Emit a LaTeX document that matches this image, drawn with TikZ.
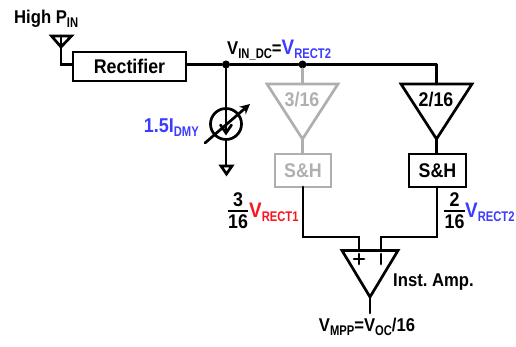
\documentclass[tikz,border=0pt]{standalone}
\usepackage{fontspec}
\setmainfont{Liberation Sans}
\usetikzlibrary{arrows.meta}
\definecolor{vblue}{RGB}{60,60,255}
\definecolor{vred}{RGB}{250,20,30}
\definecolor{vgray}{RGB}{175,175,175}
\newcommand{\tx}[1]{\scalebox{0.9}[1]{#1}}
\newcommand{\sbs}[1]{\raisebox{-4pt}{\fontsize{14}{14}\selectfont\bfseries\scalebox{0.89}[1]{#1}}}
\newcommand{\bigv}[2]{\textcolor{#1}{\fontsize{21}{21}\selectfont V\sbs{#2}}}
\tikzset{
  x=1pt,y=-1pt,
  wire/.style={line width=2.7pt,line cap=round,line join=miter},
  lbl/.style={inner sep=0pt,font=\fontsize{18.5}{18.5}\selectfont\bfseries},
  lblb/.style={inner sep=0pt,font=\fontsize{19.8}{19.8}\selectfont\bfseries},
  blk/.style={lblb,draw,line width=2.7pt,minimum width=#1,minimum height=33pt},
  dotn/.style={circle,fill=black,inner sep=0pt,minimum size=8pt}
}
\begin{document}
\begin{tikzpicture}
\useasboundingbox (0,0) rectangle (516,347);
% antenna and rectifier
\node[lbl,anchor=base west] (hp) at (14,24) {\tx{High P\sbs{IN}}};
\node[lblb,draw,line width=2.7pt,minimum width=113pt,minimum height=29pt] (rect) at (129.5,66.5) {\tx{Rectifier}};
\coordinate (antbot) at (61,47);
\coordinate (anttop) at (61,36);
\coordinate (antc) at (61,64.5);
\draw[wire] (51.5,36) -- (71.5,36) -- (antbot) -- cycle;
\draw[wire] (anttop) -- (antbot) -- (antc) -- (rect.west |- antc);
% top rail
\node[dotn] (d1) at (226,64.5) {};
\node[dotn] (d2) at (302.5,64.5) {};
\coordinate (corner) at (436.5,64.5);
\coordinate (rectE) at (rect.east |- d1);
\draw[wire] (rectE) -- (d1) -- (d2) -- (corner);
\node[lbl,anchor=base west] (vin) at (227,55) {\tx{V\sbs{IN\_DC}=\bigv{vblue}{RECT2}}};
% current source
\node[circle,draw,line width=2.7pt,minimum size=31pt,inner sep=0pt] (cs) at (226,124) {};
\coordinate (gt) at (226,166);
\coordinate (ab) at (226,133);
\coordinate (sa) at (205,143);
\coordinate (sb) at (250,104);
\draw[wire] (d1) -- (cs.north) -- (ab);
\draw[wire] (220.5,125) -- (ab) -- (231.5,125);
\draw[wire] (cs.south) -- (gt);
\draw[wire] (221,166) -- (232,166) -- (226.5,174) -- cycle;
\draw[wire,-{Stealth[length=10pt,width=10pt]}] (sa) -- (sb);
\node[lbl,anchor=base east,text=vblue,font=\fontsize{20}{20}\selectfont\bfseries] (dmy) at (199,133) {\tx{1.5I\sbs{DMY}}};
% gray branch
\coordinate (gtop) at (302.5,84);
\coordinate (gapex) at (302.5,139);
\draw[wire,draw=vgray] (d2) -- (gtop);
\draw[wire,draw=vgray] (267,84) -- (338,84) -- (gapex) -- cycle;
\node[lblb,text=vgray] (g316) at (302,100) {\tx{3/16}};
\node[blk=56pt,draw=vgray,text=vgray] (gsh) at (303,170.5) {\tx{S\&H}};
\draw[wire,draw=vgray] (gapex) -- (gsh.north -| gapex);
% black branch
\coordinate (btop) at (436.5,84);
\coordinate (bapex) at (436.5,139);
\draw[wire] (corner) -- (btop);
\draw[wire] (401,84) -- (472,84) -- (bapex) -- cycle;
\node[lblb] (b216) at (436,100) {\tx{2/16}};
\node[blk=57pt] (bsh) at (437.5,170.5) {\tx{S\&H}};
\draw[wire] (bapex) -- (bsh.north -| bapex);
% amp
\coordinate (ampp) at (359,250.5);
\coordinate (ampm) at (381,250.5);
\coordinate (ampo) at (370,297);
\coordinate (out) at (370,313);
\coordinate (gs) at (303,187);
\coordinate (bs) at (437,187);
\draw[wire] (342,250.5) -- (398,250.5) -- (ampo) -- cycle;
\draw[wire] (gs) -- (303,237) -- (359,237) -- (ampp);
\draw[wire] (bs) -- (437,237) -- (381,237) -- (ampm);
\draw[wire] (354,259) -- (364,259);
\draw[wire] (359,254) -- (359,264);
\draw[wire] (381,254) -- (381,264);
\draw[wire] (ampo) -- (out);
\node[lbl,anchor=base west] (ia) at (393,286) {\tx{Inst.~Amp.}};
\node[lbl,anchor=base] (vm) at (367,331) {\tx{V\sbs{MPP}=V\sbs{OC}/16}};
% fractions
\node[lblb] (n1) at (238,200) {\tx{3}};
\node[lblb] (m1) at (238,222) {\tx{16}};
\coordinate (b1a) at (228,211);
\coordinate (b1b) at (248,211);
\draw[line width=1.8pt] (b1a) -- (b1b);
\node[lbl,anchor=base west] (l1) at (249,218) {\tx{\bigv{vred}{RECT1}}};
\node[lblb] (n2) at (454.5,200) {\tx{2}};
\node[lblb] (m2) at (454.5,222) {\tx{16}};
\coordinate (b2a) at (444,211);
\coordinate (b2b) at (465,211);
\draw[line width=1.8pt] (b2a) -- (b2b);
\node[lbl,anchor=base west] (l2) at (465,218) {\tx{\bigv{vblue}{RECT2}}};
\end{tikzpicture}
\end{document}
